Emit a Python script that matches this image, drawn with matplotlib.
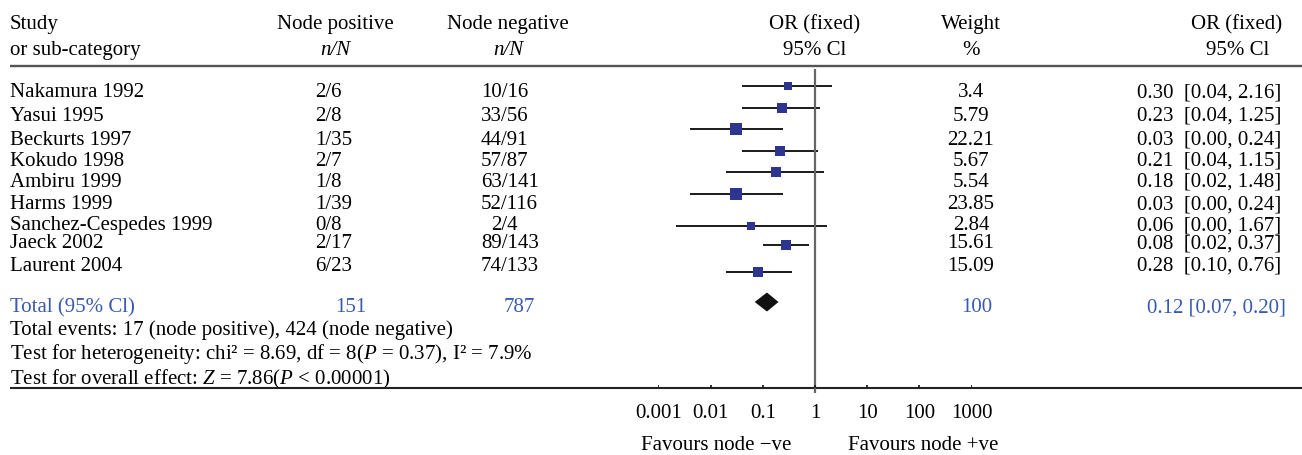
"""forest plot : node positive vs node negative (OR fixed)"""

import matplotlib
matplotlib.use("Agg")
import matplotlib.pyplot as plt
import numpy as np

plt.rcParams['font.family'] = ['Liberation Serif', 'DejaVu Serif']
plt.rcParams['mathtext.fontset'] = 'custom'
plt.rcParams['mathtext.rm'] = 'Liberation Serif'
plt.rcParams['mathtext.it'] = 'Liberation Serif:italic'

# données du tableau
etudes = ["Nakamura 1992", "Yasui 1995", "Beckurts 1997", "Kokudo 1998",
          "Ambiru 1999", "Harms 1999", "Sanchez-Cespedes 1999", "Jaeck 2002",
          "Laurent 2004"]
pos_n = [2, 2, 1, 2, 1, 1, 0, 2, 6]
pos_N = [6, 8, 35, 7, 8, 39, 8, 17, 23]
neg_n = [10, 33, 44, 57, 63, 52, 2, 89, 74]
neg_N = [16, 56, 91, 87, 141, 116, 4, 143, 133]
poids = [3.4, 5.79, 22.21, 5.67, 5.54, 23.85, 2.84, 15.61, 15.09]
or_txt = [0.30, 0.23, 0.03, 0.21, 0.18, 0.03, 0.06, 0.08, 0.28]
bas_txt = [0.04, 0.04, 0.00, 0.04, 0.02, 0.00, 0.00, 0.02, 0.10]
haut_txt = [2.16, 1.25, 0.24, 1.15, 1.48, 0.24, 1.67, 0.37, 0.76]

# valeurs telles que dessinées sur le graphe
or_trace = [0.30, 0.23, 0.03, 0.21, 0.18, 0.03, 0.06, 0.28, 0.08]
bas_trace = [0.04, 0.04, 0.004, 0.04, 0.02, 0.004, 0.0022, 0.10, 0.02]
haut_trace = [2.16, 1.25, 0.24, 1.15, 1.48, 0.24, 1.67, 0.76, 0.37]

total_pos, total_neg, total_poids = 151, 787, 100
total_or, total_bas, total_haut = 0.12, 0.07, 0.20

graduations = [0.001, 0.01, 0.1, 1, 10, 100, 1000]
grad_txt = ["0.001", "0.01", "0.1", "1", "10", "100", "1000"]

# mise en page (pixels)
W, H = 1302, 455
y_txt = [97.3, 120.7, 145, 165.7, 186.7, 209.3, 230, 248.3, 270.7]
y_marq = [86, 107.7, 129.3, 150.7, 172, 194, 226, 245.3, 272]
y_total = 302
FS = 15
BLEU = '#3a5ab0'
CARRE = '#2d3590'

fig = plt.figure(figsize=(W / 100, H / 100), dpi=100)
ax = fig.add_axes([0, 0, 1, 1])
ax.set_xlim(0, W)
ax.set_ylim(H, 0)
ax.axis('off')

x0, x1 = 658.4, 971.6
fx = fig.add_axes([x0 / W, 0, (x1 - x0) / W, 1])
fx.set_xscale('log')
fx.set_xlim(1e-3, 1e3)
fx.set_ylim(H, 0)
fx.axis('off')
fx.patch.set_alpha(0)

# en-têtes
ax.text(10, 29.3, "Study", fontsize=FS)
ax.text(10, 55, "or sub-category", fontsize=FS)
ax.text(335, 29.3, "Node positive", fontsize=FS, ha='center')
ax.text(335, 55, "n/N", fontsize=FS, ha='center', style='italic')
ax.text(508, 29.3, "Node negative", fontsize=FS, ha='center')
ax.text(508, 55, "n/N", fontsize=FS, ha='center', style='italic')
ax.text(815, 29.3, "OR (fixed)", fontsize=FS, ha='center')
ax.text(815, 55, "95% Cl", fontsize=FS, ha='center')
ax.text(971, 29.3, "Weight", fontsize=FS, ha='center')
ax.text(971, 55, "%", fontsize=FS, ha='center')
ax.text(1237, 29.3, "OR (fixed)", fontsize=FS, ha='center')
ax.text(1238, 55, "95% Cl", fontsize=FS, ha='center')
ax.hlines(65.5, 10, W, color='#555555', lw=1.7)

# lignes du tableau
for i, nom in enumerate(etudes):
    y = y_txt[i]
    ax.text(10, y, nom, fontsize=FS)
    ax.text(315, y, f"{pos_n[i]}/{pos_N[i]}", fontsize=FS)
    x_neg = 491 if neg_N[i] < 10 else 481
    ax.text(x_neg, y, f"{neg_n[i]}/{neg_N[i]}", fontsize=FS)
    ax.text(971, y, f"{poids[i]:g}", fontsize=FS, ha='center')
    ax.text(1281, y, f"{or_txt[i]:.2f}  [{bas_txt[i]:.2f}, {haut_txt[i]:.2f}]",
            fontsize=FS, ha='right')

# intervalles et carrés
for i in range(len(etudes)):
    fx.plot([bas_trace[i], haut_trace[i]], [y_marq[i], y_marq[i]],
            color='#1a1a1a', lw=1.4, solid_capstyle='butt', clip_on=False)
    cote = (7.5 + 0.8 * np.sqrt(poids[i])) * 0.72
    fx.plot(or_trace[i], y_marq[i], 's', color=CARRE, ms=cote, mew=0,
            clip_on=False, zorder=3)

# losange du total
fx.fill([total_bas, total_or, total_haut, total_or],
        [y_total, y_total - 9.5, y_total, y_total + 9.5],
        color='#111111', lw=0, clip_on=False)

# ligne verticale à 1 et axe
fx.vlines(1, 69, 393, color='#666666', lw=1.6)
fx.vlines(graduations, 384.5, 388.3, color='#222222', lw=1.3)
for g, t in zip(graduations, grad_txt):
    fx.text(g, 418, t, fontsize=FS, ha='center')
ax.hlines(388.3, 10, W, color='#222222', lw=1.5)

# total et tests
ax.text(10, 312, "Total (95% Cl)", fontsize=FS, color=BLEU)
ax.text(351, 312, f"{total_pos}", fontsize=FS, color=BLEU, ha='center')
ax.text(519, 312, f"{total_neg}", fontsize=FS, color=BLEU, ha='center')
ax.text(977, 312, f"{total_poids}", fontsize=FS, color=BLEU, ha='center')
ax.text(1285.5, 312, f"{total_or:.2f} [{total_bas:.2f}, {total_haut:.2f}]",
        fontsize=FS, color=BLEU, ha='right')
ax.text(10, 335, "Total events: 17 (node positive), 424 (node negative)",
        fontsize=FS)
ax.text(10, 359, "Test for heterogeneity: chi\u00b2 = 8.69, df = 8($\\mathit{P}$ = 0.37), "
        "I\u00b2 = 7.9%", fontsize=FS)
ax.text(10, 384, "Test for overall effect: $\\mathit{Z}$ = 7.86($\\mathit{P}$ < 0.00001)",
        fontsize=FS)

ax.text(791, 450, "Favours node \u2212ve", fontsize=FS, ha='right')
ax.text(848, 450, "Favours node +ve", fontsize=FS, ha='left')

fig.savefig("out.png", dpi=100)
